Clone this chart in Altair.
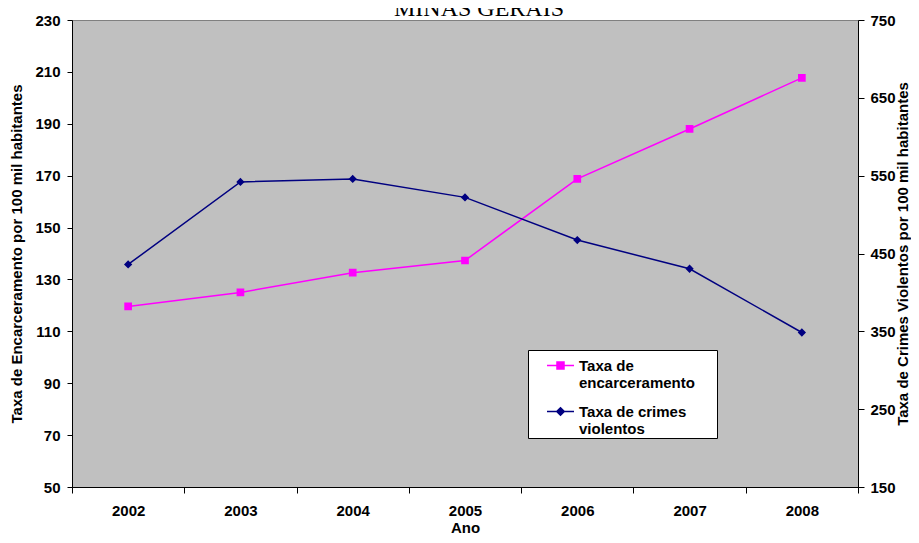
import altair as alt
import pandas as pd

anos = ["2002", "2003", "2004", "2005", "2006", "2007", "2008"]
encarceramento = [119.6, 125.0, 132.6, 137.3, 168.8, 188.0, 207.7]
crimes = [435.9, 541.9, 545.8, 522.1, 467.3, 430.4, 348.5]
series = ["Taxa de encarceramento", "Taxa de crimes violentos"]
cores = ["#FF00FF", "#000080"]
left_ticks = [50, 70, 90, 110, 130, 150, 170, 190, 210, 230]
right_ticks = [150, 250, 350, 450, 550, 650, 750]
titulo = ["MINAS GERAIS"]

# marker shapes: a short line (only visible when stroked, i.e. in the legend) + square / diamond
shape_paths = [
    "M-1,0H1M-0.26,-0.26H0.26V0.26H-0.26Z",
    "M-1,0H1M0,-0.28L0.28,0L0,0.28L-0.28,0Z",
]

df_enc = pd.DataFrame({"Ano": anos, "valor": encarceramento, "serie": series[0]})
df_cri = pd.DataFrame({"Ano": anos, "valor": crimes, "serie": series[1]})
df_tit = pd.DataFrame({"titulo": titulo})

FONT = "Liberation Sans"
FS = 15
PAD = "\u00a0" * 5 + "\u200b"

x_enc = alt.X(
    "Ano:O",
    scale=alt.Scale(type="band", domain=anos, paddingInner=0, paddingOuter=0),
    axis=alt.Axis(
        title="Ano", labelAngle=0, tickBand="extent", tickSize=6, tickColor="black",
        domainColor="black", labelFont=FONT, labelFontSize=FS, labelFontWeight="bold",
        labelColor="black", labelPadding=10, titleFont=FONT, titleFontSize=FS,
        titleFontWeight="bold", titleColor="black", titlePadding=2, grid=False,
    ),
)

color_scale = alt.Scale(domain=series, range=cores)
shape_scale = alt.Scale(domain=series, range=shape_paths)

y_left = alt.Y(
    "valor:Q",
    scale=alt.Scale(domain=[50, 230], nice=False, zero=False),
    axis=alt.Axis(
        orient="left", values=left_ticks, title="Taxa de Encarceramento por 100 mil habitantes",
        tickSize=5, tickColor="black", domainColor="black", labelFont=FONT, labelFontSize=FS,
        labelFontWeight="bold", labelColor="black", labelPadding=7, titleFont=FONT,
        titleFontSize=FS, titleFontWeight="bold", titleColor="black", titlePadding=10, grid=False,
    ),
)
y_right = alt.Y(
    "valor:Q",
    scale=alt.Scale(domain=[150, 750], nice=False, zero=False),
    axis=alt.Axis(
        orient="right", values=right_ticks, title="Taxa de Crimes Violentos por 100 mil habitantes",
        titleAngle=270, titleBaseline="top",
        tickSize=6, tickColor="black", domainColor="black", labelFont=FONT, labelFontSize=FS,
        labelFontWeight="bold", labelColor="black", labelPadding=6, titleFont=FONT,
        titleFontSize=FS, titleFontWeight="bold", titleColor="black", titlePadding=0, grid=False,
    ),
)

leg = alt.Legend(
    orient="none", legendX=456, legendY=330, title=None,
    fillColor="white", strokeColor="black", padding=1, cornerRadius=0,
    symbolSize=729, symbolStrokeWidth=1.5, symbolOpacity=1, symbolOffset=17,
    labelFont=FONT, labelFontSize=FS, labelFontWeight="bold", labelColor="black",
    labelLimit=400, labelOffset=4, labelBaseline="middle", rowPadding=6,
    labelExpr=(
        "datum.label == 'Taxa de encarceramento' ? ['Taxa de', 'encarceramento" + PAD + "']"
        " : ['Taxa de crimes', 'violentos']"
    ),
)


def series_layers(df, y):
    base = alt.Chart(df).encode(x=x_enc, y=y)
    line = base.mark_line(strokeWidth=1.5).encode(
        stroke=alt.Stroke("serie:N", scale=color_scale, legend=leg)
    )
    pts = base.mark_point(filled=True, size=876, opacity=1).encode(
        fill=alt.Fill("serie:N", scale=color_scale, legend=leg),
        shape=alt.Shape("serie:N", scale=shape_scale, legend=leg),
    )
    return line + pts


left = series_layers(df_enc, y_left)
right = series_layers(df_cri, y_right)

# chart title (the top of the letters is cut by the page edge, as in the original)
title_layer = alt.Chart(df_tit).mark_text(
    font="Liberation Serif", fontSize=24, fontWeight="normal", color="black",
    align="center", baseline="alphabetic",
).encode(text="titulo:N", x=alt.value(407), y=alt.value(-4))

chart = alt.layer(left, right, title_layer).resolve_scale(y="independent").properties(
    width=786, height=467,
    autosize=alt.AutoSizeParams(type="none"),
    padding={"left": 64, "top": 12, "right": 53, "bottom": 48},
).configure(background="white").configure_view(fill="#C0C0C0", stroke="#808080", strokeWidth=1)

chart.save("out.html", embed_options={"renderer": "svg", "actions": False})
